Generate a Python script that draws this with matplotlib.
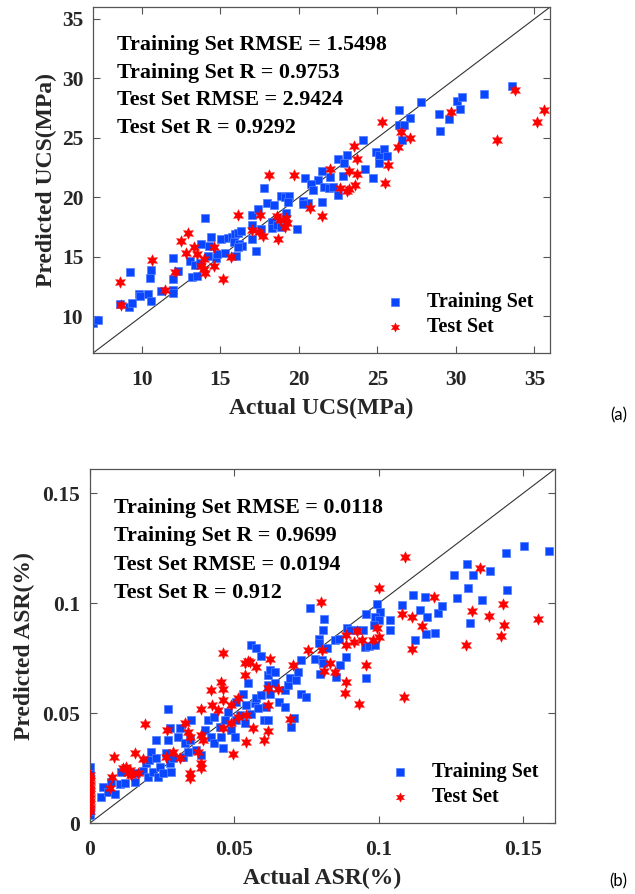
import matplotlib.pyplot as plt
import numpy as np

# ---- (a) UCS ----
ucs_train_actual = [6.9, 7.2, 8.6, 9.2, 9.4, 9.25, 9.8, 9.9, 10.4, 10.6, 10.6, 10.55, 11.2, 12.0, 12.0,
                    12.0, 12.0, 12.3, 13.1, 13.4, 13.2, 13.5, 13.8, 14.0, 14.4, 14.3, 14.2, 14.7, 14.8,
                    13.7, 15.05, 15.3, 15.5, 15.75, 15.95, 16.1, 16.3, 15.9, 16.2, 16.4, 16.1, 16.0,
                    17.0, 17.0, 17.0, 17.25, 17.4, 17.6, 17.8, 18.0, 18.4, 18.3, 18.3, 18.6, 18.9, 19.15,
                    19.4, 19.3, 18.9, 19.2, 19.9, 20.3, 20.4, 20.6, 33.6, 31.8, 30.1, 30.4, 30.25, 29.55,
                    28.9, 29.0, 27.8, 26.4, 27.1, 26.4, 26.7, 26.6, 24.1, 24.9, 25.1, 25.4, 25.6, 25.1,
                    23.1, 22.5, 22.9, 24.2, 24.7, 21.5, 22.0, 22.8, 21.2, 20.8, 20.9, 21.6, 21.9, 22.2,
                    22.5, 20.3, 21.5]
ucs_train_pred = [9.4, 9.7, 11.0, 10.8, 11.1, 13.7, 11.9, 11.7, 11.9, 11.3, 13.9, 13.25, 12.1, 12.2, 11.95,
                  13.1, 14.9, 13.8, 14.6, 14.3, 13.3, 13.4, 16.05, 18.3, 16.7, 15.9, 15.1, 14.9, 15.2,
                  14.5, 16.5, 15.35, 16.6, 16.7, 16.9, 17.0, 17.2, 16.2, 16.1, 15.9, 15.8, 15.1,
                  18.5, 17.7, 16.5, 15.5, 19.0, 17.3, 20.75, 19.5, 19.35, 17.95, 17.4, 17.7, 20.1, 20.05,
                  20.1, 19.6, 17.5, 18.7, 17.3, 19.7, 21.6, 19.5, 29.4, 28.65, 28.1, 28.4, 27.45, 26.6,
                  27.0, 25.6, 28.0, 27.3, 26.7, 26.1, 26.1, 24.8, 24.8, 23.8, 23.55, 24.1, 23.5, 22.9,
                  23.55, 23.2, 22.9, 22.4, 21.65, 22.2, 21.7, 21.8, 21.45, 21.1, 20.6, 20.9, 20.8, 20.9,
                  20.2, 19.4, 19.6]
ucs_test_actual = [8.64, 8.7, 10.66, 11.5, 12.15, 12.5, 12.95, 12.8, 13.3, 13.55, 13.97, 13.95, 14.0, 13.8,
                   14.6, 14.6, 15.2, 15.7, 16.1, 17.0, 17.56, 17.45, 17.7, 18.66, 18.6, 18.8, 19.2, 19.25,
                   19.1, 18.1, 19.7, 20.7, 21.5, 33.8, 35.6, 35.2, 32.6, 29.7, 27.1, 26.5, 26.3, 25.3,
                   25.7, 25.5, 23.5, 23.7, 23.2, 23.7, 22.0, 23.6, 23.2, 23.1, 22.65]
ucs_test_pred = [12.86, 10.9, 14.7, 12.2, 13.7, 16.3, 17.0, 15.35, 15.8, 15.2, 14.8, 14.0, 13.6, 14.2,
                 14.2, 15.8, 13.1, 15.0, 18.5, 17.25, 18.5, 17.1, 16.75, 16.5, 18.4, 18.1, 18.3, 17.8,
                 17.5, 21.9, 21.9, 19.1, 18.4, 29.05, 27.3, 26.3, 24.8, 27.2, 25.0, 25.5, 24.2, 26.3,
                 22.7, 21.2, 24.35, 23.2, 22.2, 22.0, 22.4, 21.0, 20.7, 20.5, 20.75]
ucs_stats = ['Training Set RMSE = 1.5498', 'Training Set R = 0.9753',
             'Test Set RMSE = 2.9424', 'Test Set R = 0.9292']
ucs_ticks = [10, 15, 20, 25, 30, 35]

# ---- (b) ASR ----
asr_train_actual = [0, 0, 0, 0,
                    0.0039, 0.0045, 0.0062, 0.0074, 0.0085, 0.0103, 0.0108, 0.012,
                    0.0155, 0.016, 0.0183, 0.0195, 0.0201, 0.0212, 0.0206, 0.0218, 0.023, 0.023, 0.0235,
                    0.0241, 0.0253, 0.0264, 0.027, 0.0276, 0.0281, 0.0276, 0.0287, 0.0305, 0.031, 0.0322,
                    0.0328, 0.0339, 0.0345, 0.0351, 0.0368, 0.0385, 0.0397, 0.0408, 0.042, 0.0429, 0.0431,
                    0.0449, 0.0454, 0.046, 0.0466, 0.0478, 0.0489, 0.0501, 0.0506, 0.0506, 0.0518, 0.0529,
                    0.0535, 0.0541, 0.0547, 0.0558, 0.057, 0.0576, 0.0581, 0.0593, 0.0604, 0.061, 0.0616,
                    0.0622, 0.0616, 0.0622, 0.0616, 0.0639, 0.0639, 0.0656, 0.0674, 0.0674, 0.0685, 0.0691,
                    0.0697, 0.0708, 0.0714, 0.072, 0.0731, 0.0731, 0.0749, 0.0558, 0.0576, 0.0593, 0.027,
                    0.1503, 0.1588, 0.1442, 0.1305, 0.1261, 0.1326, 0.1386, 0.1309, 0.1445, 0.1271, 0.1359,
                    0.1117, 0.116, 0.1079, 0.1142, 0.1167, 0.1204, 0.122, 0.1316, 0.104, 0.104, 0.1126,
                    0.1164, 0.1193, 0.0995, 0.1005, 0.0986, 0.1001, 0.0983, 0.0954, 0.0946, 0.0889, 0.09,
                    0.0923, 0.0951, 0.0967, 0.0986, 0.0847, 0.0863, 0.0885, 0.0864, 0.0956, 0.0810, 0.0807,
                    0.0794, 0.0794, 0.0819, 0.0779, 0.0802, 0.0807, 0.0796, 0.0851, 0.0762]
asr_train_pred = [0.0256, 0.0225, 0.0036, 0.0055,
                  0.012, 0.0165, 0.0142, 0.0188, 0.013, 0.0177, 0.0233, 0.018,
                  0.0188, 0.0226, 0.0238, 0.0271, 0.0211, 0.0324, 0.0286, 0.0233, 0.0294, 0.0377, 0.0211,
                  0.0256, 0.0226, 0.0317, 0.0377, 0.0271, 0.0233, 0.043, 0.0294, 0.0392, 0.043, 0.0302,
                  0.0362, 0.0324, 0.0377, 0.0468, 0.0332, 0.0309, 0.0423, 0.0468, 0.0392, 0.0483, 0.0362,
                  0.0438, 0.0392, 0.0339, 0.0468, 0.0506, 0.0423, 0.0392, 0.0468, 0.0552, 0.0491, 0.0589,
                  0.0453, 0.0536, 0.0635, 0.0498, 0.0544, 0.0567, 0.0521, 0.0582, 0.0468, 0.0529, 0.0673,
                  0.0695, 0.0627, 0.0589, 0.0468, 0.0688, 0.0635, 0.0552, 0.0605, 0.0529, 0.0627, 0.0658,
                  0.0438, 0.0476, 0.065, 0.0688, 0.0589, 0.0741, 0.0574, 0.0809, 0.0794, 0.0759, 0.0517,
                  0.1259, 0.1236, 0.1226, 0.1177, 0.1126, 0.1127, 0.1144, 0.1067, 0.1061, 0.1024, 0.1014,
                  0.1036, 0.1026, 0.0991, 0.0968, 0.0935, 0.0956, 0.0986, 0.0911, 0.0923, 0.0877, 0.0832,
                  0.0859, 0.0862, 0.0998, 0.0961, 0.0938, 0.0923, 0.09, 0.095, 0.088, 0.0889, 0.0877,
                  0.088, 0.0802, 0.0805, 0.0809, 0.0832, 0.0835, 0.0756, 0.0718, 0.0661, 0.0927, 0.0877,
                  0.0839, 0.0817, 0.0794, 0.0748, 0.0741, 0.0726, 0.0676, 0.0665, 0.0977]
asr_test_actual = [0, 0, 0, 0, 0, 0, 0, 0, 0, 0, 0, 0,
                   0.0068, 0.0076, 0.0083, 0.0114, 0.0126, 0.0131, 0.0137, 0.0143, 0.0166, 0.0155, 0.0183,
                   0.0192, 0.0264, 0.0268, 0.0287, 0.031, 0.0328, 0.0339, 0.0345, 0.0345, 0.0348, 0.0374,
                   0.0385, 0.0391, 0.0385, 0.0385, 0.0385, 0.042, 0.0422, 0.0443, 0.0454, 0.046, 0.046,
                   0.046, 0.046, 0.0489, 0.0489, 0.0495, 0.0512, 0.0512, 0.0535, 0.0547, 0.0553, 0.0537,
                   0.0541, 0.0541, 0.0564, 0.0576, 0.0604, 0.0616, 0.0616, 0.0616, 0.0622, 0.0651, 0.0691,
                   0.0702, 0.0754,
                   0.109, 0.1349, 0.119, 0.0999, 0.0799, 0.143, 0.1324, 0.1382, 0.1551, 0.1435, 0.1424,
                   0.1301, 0.1079, 0.1115, 0.1151, 0.1115, 0.1087, 0.0995, 0.1, 0.0981, 0.0926, 0.0942,
                   0.0914, 0.0888, 0.0888, 0.0957, 0.0848, 0.0886, 0.0883, 0.0931, 0.081, 0.083, 0.0802]
asr_test_pred = [0.022, 0.0205, 0.019, 0.0175, 0.016, 0.0145, 0.013, 0.0115, 0.01, 0.0085, 0.007, 0.0055,
                 0.0158, 0.0208, 0.0302, 0.0248, 0.0256, 0.0226, 0.0241, 0.0218, 0.0226, 0.0317, 0.0289,
                 0.045, 0.0302, 0.0423, 0.0324, 0.0294, 0.0453, 0.0415, 0.0392, 0.0226, 0.0203, 0.0324,
                 0.04, 0.0377, 0.0271, 0.0248, 0.0517, 0.0605, 0.0536, 0.0514, 0.0642, 0.0608, 0.0559,
                 0.043, 0.0774, 0.0536, 0.0453, 0.0314, 0.0567, 0.0483, 0.0726, 0.0738, 0.0733, 0.0673,
                 0.0491, 0.037, 0.043, 0.0708, 0.0377, 0.0536, 0.042, 0.0612, 0.0745, 0.0608, 0.0473,
                 0.0718, 0.0786,
                 0.1211, 0.1162, 0.1026, 0.1071, 0.1005, 0.0998, 0.0964, 0.0941, 0.0926, 0.09, 0.085,
                 0.0808, 0.095, 0.0938, 0.0897, 0.0792, 0.0571, 0.0885, 0.0847, 0.0832, 0.0874, 0.0832,
                 0.0821, 0.0855, 0.0809, 0.0717, 0.0688, 0.0642, 0.0592, 0.0541, 0.0691, 0.0729, 0.0786]
asr_stats = ['Training Set RMSE = 0.0118', 'Training Set R = 0.9699',
             'Test Set RMSE = 0.0194', 'Test Set R = 0.912']
asr_ticks = [0, 0.05, 0.1, 0.15]
asr_ticklabels = ['0', '0.05', '0.1', '0.15']

SERIF = 'Liberation Serif'
BLUE = '#0a46ff'
RED = '#ff0000'
hexagram = (6, 1, 0)


def draw_panel(ax, tr_x, tr_y, te_x, te_y, lims, ticks, ticklabels, stats, xlabel, ylabel, ylabelpad):
    ax.plot(lims, lims, color='#333333', lw=0.8, zorder=1)
    ax.scatter(tr_x, tr_y, marker='s', s=40, color=BLUE, edgecolors='#4f7dff', linewidths=0.5,
               label='Training Set', zorder=2)
    ax.scatter(te_x, te_y, marker=hexagram, s=70, color=RED, edgecolors=RED, linewidths=0.3,
               label='Test Set', zorder=3)
    ax.set_xlim(lims)
    ax.set_ylim(lims)
    ax.set_xticks(ticks)
    ax.set_yticks(ticks)
    ax.set_xticklabels(ticklabels, fontfamily=SERIF, fontweight='bold', fontsize=15.5, color='#262626')
    ax.set_yticklabels(ticklabels, fontfamily=SERIF, fontweight='bold', fontsize=15.5, color='#262626')
    ax.tick_params(direction='in', top=True, right=True, length=5, width=0.8, color='#555555')
    ax.tick_params(axis='x', pad=12)
    ax.tick_params(axis='y', pad=7)
    for sp in ax.spines.values():
        sp.set_color('#555555')
        sp.set_linewidth(0.9)
    ax.set_xlabel(xlabel, fontfamily=SERIF, fontweight='bold', fontsize=17, color='#262626', labelpad=6)
    ax.set_ylabel(ylabel, fontfamily=SERIF, fontweight='bold', fontsize=17, color='#262626',
                  labelpad=ylabelpad)
    for i, s in enumerate(stats):
        ax.text(0.052, 0.876 - 0.08 * i, s, transform=ax.transAxes, fontfamily=SERIF,
                fontweight='bold', fontsize=15.8, va='baseline', ha='left', color='black')
    ax.legend(loc='lower right', frameon=False, prop={'family': SERIF, 'weight': 'bold', 'size': 14.5},
              handletextpad=0.6, labelspacing=0.25, borderaxespad=0.4, markerscale=0.8)


fig = plt.figure(figsize=(6.35, 8.94), dpi=100)
ax1 = fig.add_axes([0.1465, 0.6051, 0.7197, 0.3870])
ax2 = fig.add_axes([0.1417, 0.0794, 0.7323, 0.3960])

draw_panel(ax1, ucs_train_actual, ucs_train_pred, ucs_test_actual, ucs_test_pred, [6.9, 36.0],
           ucs_ticks, [str(t) for t in ucs_ticks], ucs_stats, 'Actual UCS(MPa)', 'Predicted UCS(MPa)', 3)
draw_panel(ax2, asr_train_actual, asr_train_pred, asr_test_actual, asr_test_pred, [0, 0.161],
           asr_ticks, asr_ticklabels, asr_stats, 'Actual ASR(%)', 'Predicted ASR(%)', 5)

fig.text(0.988, 0.535, '(a)', fontfamily='Lato', fontsize=12, ha='right', va='center')
fig.text(0.988, 0.014, '(b)', fontfamily='Lato', fontsize=12, ha='right', va='center')

fig.savefig('out.png', dpi=100)
